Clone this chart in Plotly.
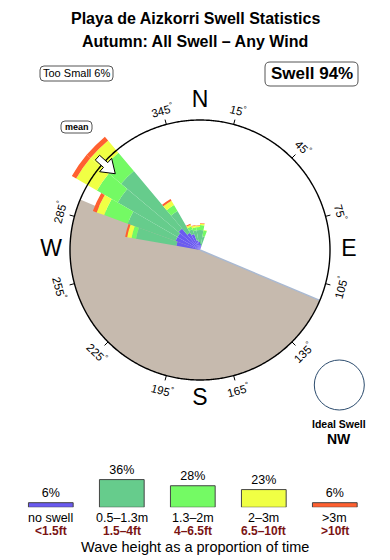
import math
import plotly.graph_objects as go

# ---------------- data ----------------
directions = [285, 295, 305, 315, 325, 335, 345, 355, 5, 15]   # bin centres (deg)
bin_width = 10
no_swell = [2.4, 2.6, 2.6, 2.8, 2.0, 1.7, 1.0, 0.8, 0.6, 0.4]
h_05_13 = [4.1, 5.1, 6.9, 7.5, 2.5, 0.5, 1.0, 1.2, 1.4, 1.0]
h_13_2 = [0.45, 2.5, 2.4, 2.4, 0.7, 0.3, 0.3, 0.3, 0.5, 0.6]
h_2_3 = [0.45, 0.8, 2.4, 1.6, 0.5, 0.2, 0.2, 0.15, 0.15, 0.05]
h_gt3 = [0.2, 0.4, 0.5, 0.5, 0.2, 0.1, 0.05, 0.05, 0.05, 0.0]

class_names = ["no swell", "0.5–1.3m", "1.3–2m", "2–3m", ">3m"]
class_feet = ["<1.5ft", "1.5–4ft", "4–6.5ft", "6.5–10ft", ">10ft"]
class_pct = [6, 36, 28, 23, 6]
class_colors = ["#6a5af0", "#66cc8c", "#74fa64", "#f0ff44", "#ff6030"]

tick_angles = [15, 45, 75, 105, 135, 165, 195, 225, 255, 285, 345]
compass_labels = ["N", "E", "S", "W"]
compass_theta = [0, 90, 180, 270]
land_from, land_to = 112.8, 292.8
mean_dir = 312
too_small_pct = 6
swell_pct = 94
ideal_dir = "NW"

# ---------------- layout geometry ----------------
W, H = 390, 560
CX, CY = 200, 250        # rose centre in pixels
PXU = 10.0               # pixels per radial unit
RCIRC = 13.0             # radial value of the compass circle
RDOM = 16.5              # radial extent of the polar subplot
FONT = "Liberation Sans, Arial, sans-serif"
LAND = "#c6baae"

fig = go.Figure()

# land half-disc
fig.add_trace(go.Barpolar(
    r=[RCIRC], theta=[(land_from + land_to) / 2], width=[land_to - land_from],
    marker=dict(color=LAND, line=dict(width=0)), hoverinfo="skip", subplot="polar"))

# stacked swell bars
for vals, col in zip([no_swell, h_05_13, h_13_2, h_2_3, h_gt3], class_colors):
    fig.add_trace(go.Barpolar(
        r=vals, theta=directions, width=[bin_width] * len(directions),
        marker=dict(color=col, line=dict(width=0)), subplot="polar"))

# land edge line (east side)
fig.add_trace(go.Scatterpolar(
    r=[0, RCIRC], theta=[land_from, land_from], mode="lines",
    line=dict(color="#a9b9d2", width=1.5), hoverinfo="skip", subplot="polar"))

# compass circle
circ_t = [i * 0.5 for i in range(721)]
fig.add_trace(go.Scatterpolar(
    r=[RCIRC] * len(circ_t), theta=circ_t, mode="lines",
    line=dict(color="black", width=1.4), hoverinfo="skip", subplot="polar"))

# tick marks
tr, tt = [], []
for b in tick_angles:
    tr += [RCIRC, RCIRC + 0.5, None]
    tt += [b, b, None]
fig.add_trace(go.Scatterpolar(
    r=tr, theta=tt, mode="lines", line=dict(color="black", width=1),
    hoverinfo="skip", subplot="polar"))

# mean direction arrow (pointing to centre)
arrow_local = [(11.4, 0), (12.7, -0.9), (12.7, -0.32), (13.8, -0.32),
               (13.8, 0.32), (12.7, 0.32), (12.7, 0.9), (11.4, 0)]
ar = [math.hypot(a, p) for a, p in arrow_local]
at = [mean_dir + math.degrees(math.atan2(p, a)) for a, p in arrow_local]
fig.add_trace(go.Scatterpolar(
    r=ar, theta=at, mode="lines", fill="toself", fillcolor="white",
    line=dict(color="black", width=1), subplot="polar"))

# compass letters
fig.add_trace(go.Scatterpolar(
    r=[14.9] * 4, theta=compass_theta, text=compass_labels, mode="text",
    textfont=dict(size=23, color="black", family=FONT), subplot="polar"))

fig.update_layout(
    width=W, height=H, margin=dict(l=0, r=0, t=0, b=0),
    paper_bgcolor="white", plot_bgcolor="white", showlegend=False,
    font=dict(family=FONT, color="black"),
    polar=dict(
        domain=dict(x=[(CX - RDOM * PXU) / W, (CX + RDOM * PXU) / W],
                    y=[(H - CY - RDOM * PXU) / H, (H - CY + RDOM * PXU) / H]),
        bgcolor="rgba(0,0,0,0)", barmode="stack",
        radialaxis=dict(range=[0, RDOM], visible=False),
        angularaxis=dict(rotation=90, direction="clockwise", visible=False),
    ),
)


def label(x, y, text, size, color="black", **kw):
    fig.add_annotation(x=x, y=y, text=text, showarrow=False,
                       xanchor="center", yanchor="middle",
                       font=dict(size=size, color=color, family=FONT), **kw)


def rounded_box(x0, y0, x1, y1, rad):
    """Rounded rectangle, pixel coords measured from the top-left."""
    def px(x):
        return x / W

    def py(y):
        return (H - y) / H
    p = (f"M {px(x0 + rad)},{py(y0)} L {px(x1 - rad)},{py(y0)} "
         f"Q {px(x1)},{py(y0)} {px(x1)},{py(y0 + rad)} L {px(x1)},{py(y1 - rad)} "
         f"Q {px(x1)},{py(y1)} {px(x1 - rad)},{py(y1)} L {px(x0 + rad)},{py(y1)} "
         f"Q {px(x0)},{py(y1)} {px(x0)},{py(y1 - rad)} L {px(x0)},{py(y0 + rad)} "
         f"Q {px(x0)},{py(y0)} {px(x0 + rad)},{py(y0)} Z")
    fig.add_shape(type="path", path=p, xref="paper", yref="paper",
                  line=dict(color="#555555", width=1), fillcolor="white")


# angle labels, rotated tangentially
RLAB = 14.5
for b in tick_angles:
    rad = math.radians(b)
    x = (CX + RLAB * PXU * math.sin(rad)) / W
    y = (H - CY + RLAB * PXU * math.cos(rad)) / H
    if b <= 90:
        ta = b
    elif b >= 270:
        ta = b - 360
    else:
        ta = b - 180
    label(x, y, f"{b}<sup>°</sup>", 11.5, xref="paper", yref="paper", textangle=ta)

# ---------------- legend bar chart ----------------
fig.add_trace(go.Bar(
    x=list(range(5)), y=class_pct, width=0.63,
    marker=dict(color=class_colors, line=dict(color="#444444", width=1)),
    text=[f"{p}%" for p in class_pct], textposition="outside",
    constraintext="none", cliponaxis=False,
    textfont=dict(size=12.5, color="black", family=FONT),
    xaxis="x", yaxis="y"))
fig.update_layout(
    xaxis=dict(domain=[15.3 / W, 370.3 / W], range=[-0.5, 4.5], visible=False),
    yaxis=dict(domain=[(H - 507.3) / H, (H - 507.3 + 30.8) / H], range=[0, 40],
               visible=False),
)
for i in range(5):
    label(i, (H - 518.3) / H, class_names[i], 12.5, xref="x", yref="paper")
    label(i, (H - 530.5) / H, f"<b>{class_feet[i]}</b>", 12, "#7a1414",
          xref="x", yref="paper")
label(195 / W, (H - 546.7) / H, "Wave height as a proportion of time", 14.5,
      xref="paper", yref="paper")

# ---------------- titles and boxes ----------------
label(0.5, (H - 19) / H, "<b>Playa de Aizkorri Swell Statistics</b>", 16,
      xref="paper", yref="paper")
label(0.5, (H - 42) / H, "<b>Autumn: All Swell – Any Wind</b>", 16,
      xref="paper", yref="paper")

rounded_box(40, 66, 113, 81, 4)
label(76.5 / W, (H - 73.5) / H, f"Too Small {too_small_pct}%", 11,
      xref="paper", yref="paper")
rounded_box(265, 62, 358, 86, 5)
label(311.5 / W, (H - 74) / H, f"<b>Swell {swell_pct}%</b>", 17,
      xref="paper", yref="paper")
rounded_box(61, 121, 92, 133, 4)
label(76.5 / W, (H - 127) / H, "<b>mean</b>", 9, xref="paper", yref="paper")

# ideal swell indicator
fig.add_shape(type="circle", xref="paper", yref="paper",
              x0=314.3 / W, x1=364.3 / W, y0=(H - 410) / H, y1=(H - 360) / H,
              line=dict(color="#2c4c6e", width=1), fillcolor="white")
label(339.3 / W, (H - 424) / H, "<b>Ideal Swell</b>", 10.5, xref="paper", yref="paper")
label(339.3 / W, (H - 439) / H, f"<b>{ideal_dir}</b>", 14, xref="paper", yref="paper")

fig.write_html("out.html")
